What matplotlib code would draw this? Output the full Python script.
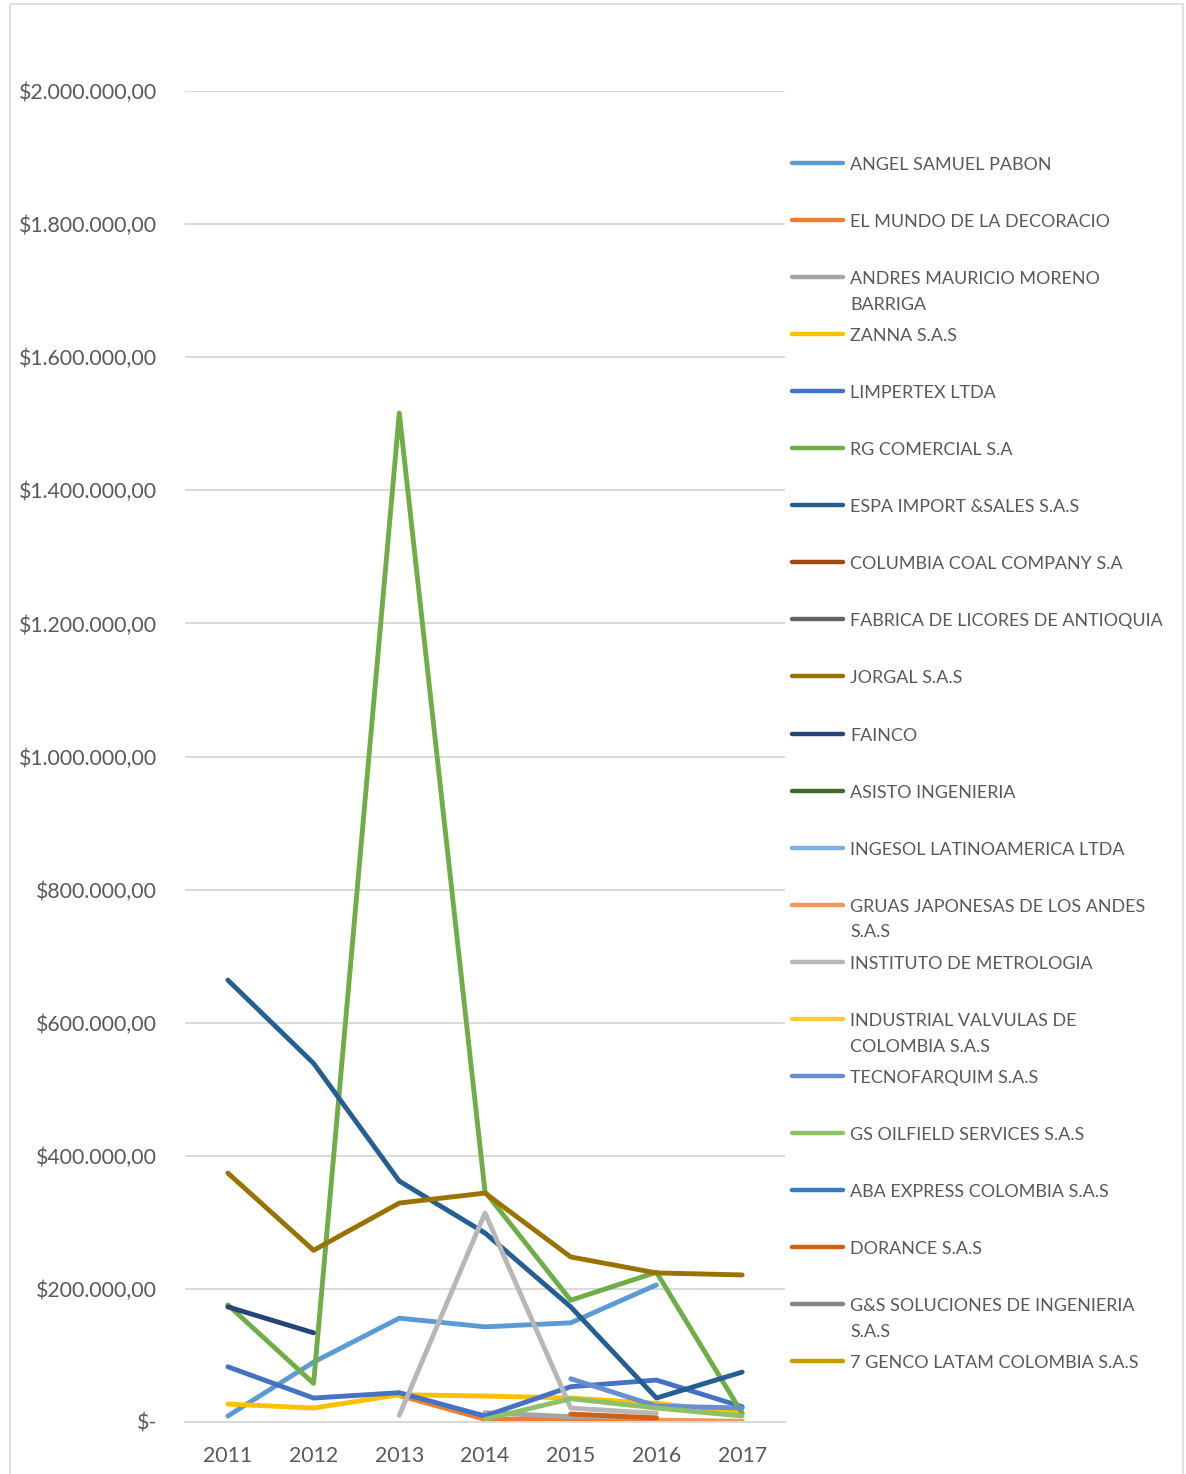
import matplotlib
matplotlib.use('Agg')
import matplotlib.pyplot as plt
from matplotlib.lines import Line2D
from matplotlib.patches import Rectangle
from matplotlib.ticker import FuncFormatter
import numpy as np

nan = np.nan

years = [2011, 2012, 2013, 2014, 2015, 2016, 2017]

# values, in pesos (nan = no value that year)
angel_samuel = [9000, 90000, 156000, 143000, 149000, 206000, nan]
el_mundo = [nan, nan, 40000, 4000, 5000, 2000, nan]
andres_mauricio = [nan, nan, nan, 14000, 8000, 6000, nan]
zanna = [27000, 21000, 41000, 39000, 36000, 28000, 14000]
limpertex = [83000, 36000, 44000, 9000, 53000, 63000, 23000]
rg_comercial = [176000, 58000, 1516000, 346000, 183000, 225000, 13000]
espa_import = [664000, 539000, 362000, 284000, 173000, 36000, 75000]
columbia_coal = [nan, nan, nan, nan, nan, nan, nan]
fabrica_licores = [nan, nan, nan, nan, nan, nan, nan]
jorgal = [374000, 258000, 329000, 344000, 248000, 224000, 221000]
fainco = [173000, 134000, nan, nan, nan, nan, nan]
asisto = [nan, nan, nan, nan, nan, nan, nan]
ingesol = [nan, nan, nan, nan, nan, nan, nan]
gruas_japonesas = [nan, nan, nan, nan, nan, 3000, 1000]
instituto_metrologia = [nan, nan, 10000, 314000, 21000, 13000, nan]
industrial_valvulas = [nan, nan, nan, nan, nan, nan, nan]
tecnofarquim = [nan, nan, nan, nan, 65000, 24000, 21000]
gs_oilfield = [nan, nan, nan, 4000, 35000, 21000, 9000]
aba_express = [nan, nan, nan, nan, nan, nan, nan]
dorance = [nan, nan, nan, nan, 12000, 6000, nan]
gs_soluciones = [nan, nan, nan, nan, nan, nan, nan]
genco = [nan, nan, nan, nan, nan, nan, nan]

series = [
    ('ANGEL SAMUEL PABON', angel_samuel, '#5B9BD5'),
    ('EL MUNDO DE LA DECORACIO', el_mundo, '#ED7D31'),
    ('ANDRES MAURICIO MORENO\nBARRIGA', andres_mauricio, '#A5A5A5'),
    ('ZANNA S.A.S', zanna, '#FFC000'),
    ('LIMPERTEX LTDA', limpertex, '#4472C4'),
    ('RG COMERCIAL S.A', rg_comercial, '#70AD47'),
    ('ESPA IMPORT &SALES S.A.S', espa_import, '#255E91'),
    ('COLUMBIA COAL COMPANY S.A', columbia_coal, '#9E480E'),
    ('FABRICA DE LICORES DE ANTIOQUIA', fabrica_licores, '#636363'),
    ('JORGAL S.A.S', jorgal, '#997300'),
    ('FAINCO', fainco, '#264478'),
    ('ASISTO INGENIERIA', asisto, '#43682B'),
    ('INGESOL LATINOAMERICA LTDA', ingesol, '#7CAFDD'),
    ('GRUAS JAPONESAS DE LOS ANDES\nS.A.S', gruas_japonesas, '#F1975A'),
    ('INSTITUTO DE METROLOGIA', instituto_metrologia, '#B7B7B7'),
    ('INDUSTRIAL VALVULAS DE\nCOLOMBIA S.A.S', industrial_valvulas, '#FFCD33'),
    ('TECNOFARQUIM S.A.S', tecnofarquim, '#698ED0'),
    ('GS OILFIELD SERVICES S.A.S', gs_oilfield, '#8CC168'),
    ('ABA EXPRESS COLOMBIA S.A.S', aba_express, '#327DC2'),
    ('DORANCE S.A.S', dorance, '#D26012'),
    ('G&S SOLUCIONES DE INGENIERIA\nS.A.S', gs_soluciones, '#848484'),
    ('7 GENCO LATAM COLOMBIA S.A.S', genco, '#CC9A00'),
]

plt.rcParams['font.family'] = ['Lato', 'DejaVu Sans']
text_col = '#595959'

W, H = 1186, 1474
fig = plt.figure(figsize=(W / 100, H / 100), dpi=100)

# chart border (bottom edge runs off the picture)
fig.add_artist(Rectangle((10 / W, -0.05), 1173 / W, 1.05 - 4 / H, transform=fig.transFigure,
                         fill=False, edgecolor='#D9D9D9', linewidth=1.2))

ax = fig.add_axes([185 / W, 52 / H, 600 / W, 1331 / H])

for name, vals, col in series:
    ax.plot(years, vals, color=col, linewidth=3.5, solid_capstyle='round',
            solid_joinstyle='round', label=name)

ax.set_xlim(2010.5, 2017.5)
ax.set_ylim(0, 2000000)
ax.set_yticks(np.arange(0, 2000001, 200000))
ax.set_xticks(years)


def money(v, pos):
    if v == 0:
        return '$-'
    s = '{:,.2f}'.format(v)
    s = s.replace(',', 'X').replace('.', ',').replace('X', '.')
    return '$' + s


ax.yaxis.set_major_formatter(FuncFormatter(money))
ax.grid(axis='y', color='#D9D9D9', linewidth=1.4)
ax.set_axisbelow(True)
for sp in ax.spines.values():
    sp.set_visible(False)
ax.spines['bottom'].set_visible(True)
ax.spines['bottom'].set_color('#D9D9D9')
ax.spines['bottom'].set_linewidth(1.4)
ax.tick_params(axis='both', length=0, labelsize=15.3, labelcolor=text_col)
ax.tick_params(axis='y', pad=20)
ax.tick_params(axis='x', pad=17.5)

# legend drawn by hand so the key sits on the first text line
for i, (name, vals, col) in enumerate(series):
    yy = 1 - (163 + i * 57.05) / H
    fig.add_artist(Line2D([792 / W, 843 / W], [yy, yy], transform=fig.transFigure,
                          color=col, linewidth=3.2, solid_capstyle='round'))
    fig.text(850 / W, yy + 6 / H, name, fontsize=12.9, color=text_col,
             va='top', ha='left', linespacing=1.75)

fig.savefig('out.png', dpi=100)
